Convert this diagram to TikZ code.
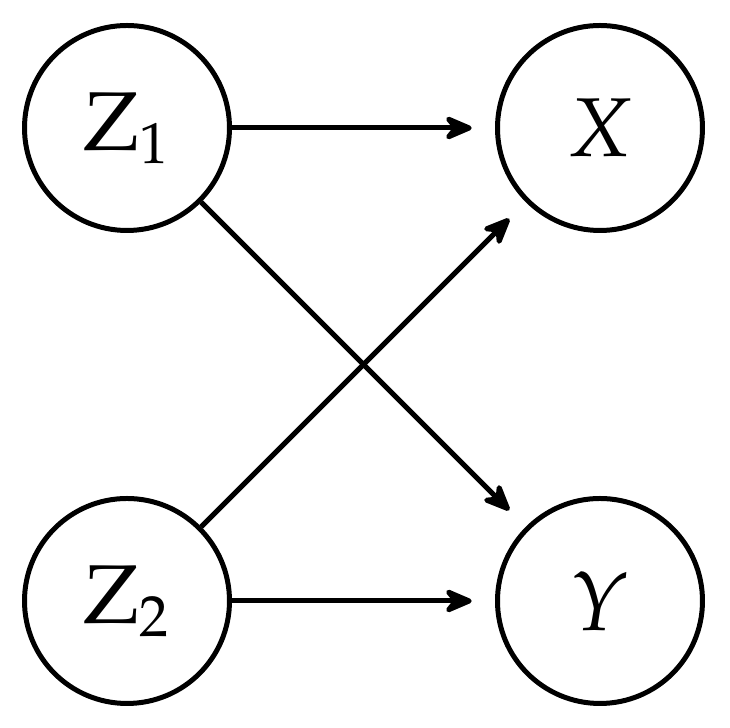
\documentclass[tikz,border=0pt]{standalone}
\usepackage{mathpazo}
\usetikzlibrary{arrows.meta}
\begin{document}
\begin{tikzpicture}[x=0.2486pt,y=0.2486pt,
  var/.style={circle,draw,line width=1.24pt,minimum size=50.96pt,inner sep=0pt,font=\huge},
  edge/.style={line width=1.24pt,-{Stealth[length=8.7pt,width=7.4pt,inset=3pt,round]},shorten >=5.8pt}]
\useasboundingbox (0,0) rectangle (730,728);
\node[var] (z1) at (127,600) {$\mathrm{Z}_1$};
\node[var] (x)  at (600,600) {$X$};
\node[var] (z2) at (127,127) {$\mathrm{Z}_2$};
\node[var] (y)  at (600,127) {$Y$};
\draw[edge] (z1) -- (x);
\draw[edge] (z1) -- (y);
\draw[edge] (z2) -- (x);
\draw[edge] (z2) -- (y);
\end{tikzpicture}
\end{document}
